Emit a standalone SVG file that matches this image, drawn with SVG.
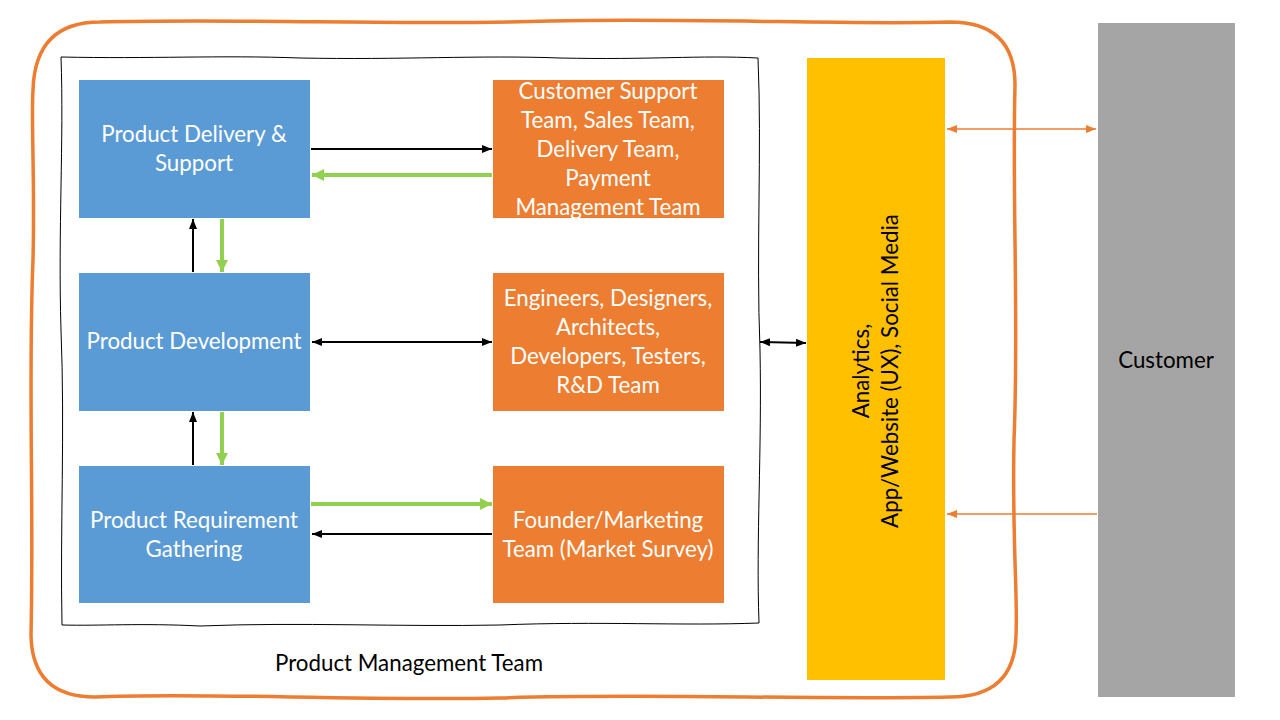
<svg xmlns="http://www.w3.org/2000/svg" width="1280" height="720" viewBox="0 0 1280 720">
<style>
  .lbl { font-family: Lato, "Liberation Sans", sans-serif; font-size: 22.3px; text-anchor: middle; }
  .w { fill: #FFFFFF; }
  .k { fill: #000000; }
  .blue { fill: #5B9BD5; }
  .org { fill: #ED7D31; }
  .blk { stroke: #000000; stroke-width: 2; fill: none; }
  .grn { stroke: #92D050; stroke-width: 4; fill: none; }
  .oar { stroke: #ED7D31; stroke-width: 1.5; fill: none; }
</style>
<defs>
  <marker id="mb" markerUnits="userSpaceOnUse" markerWidth="10" markerHeight="8" refX="10" refY="4" orient="auto-start-reverse">
    <path d="M0,0 L10,4 L0,8 z" fill="#000000"/>
  </marker>
  <marker id="mg" markerUnits="userSpaceOnUse" markerWidth="12" markerHeight="12" refX="12" refY="6" orient="auto-start-reverse">
    <path d="M0,0 L12,6 L0,12 z" fill="#92D050"/>
  </marker>
  <marker id="mo" markerUnits="userSpaceOnUse" markerWidth="10" markerHeight="8" refX="10" refY="4" orient="auto-start-reverse">
    <path d="M0,0 L10,4 L0,8 z" fill="#ED7D31"/>
  </marker>
</defs>
<rect width="1280" height="720" fill="#FFFFFF"/>

<g id="product-management-team">
  <path d="M100,22 C250,18 400,26 550,21 C700,18 850,25 950,22 Q1015,22 1015,85 C1012,200 1019,320 1014,440 C1012,540 1018,600 1016,635 Q1015,697 950,697 C800,700 650,693 500,698 C350,701 200,692 95,697 Q32,697 31,635 C34,500 28,380 33,260 C35,180 31,120 33,90 Q35,22 100,22 Z" fill="none" stroke="#ED7D31" stroke-width="3.5"/>
  <text class="lbl k" x="409" y="671">Product Management Team</text>
</g>

<g id="inner-team-box">
  <path d="M61,57 C150,59 220,55 300,58 C400,60 480,55 560,58 C650,60 700,55 758,58 C762,150 756,250 760,350 C762,450 756,540 759,623 C680,626 600,621 500,625 C400,627 300,622 200,626 C140,623 100,626 62,625 C60,530 65,430 61,330 C58,230 64,140 61,57 Z" fill="none" stroke="#000000" stroke-width="1"/>
</g>

<g id="product-delivery">
  <rect x="79" y="80" width="231" height="138" class="blue"/>
  <text class="lbl w" x="194" y="142">Product Delivery &amp;</text>
  <text class="lbl w" x="194" y="171">Support</text>
</g>
<g id="product-development">
  <rect x="79" y="273" width="231" height="138" class="blue"/>
  <text class="lbl w" x="194" y="349">Product Development</text>
</g>
<g id="product-requirement">
  <rect x="79" y="466" width="231" height="137" class="blue"/>
  <text class="lbl w" x="194" y="528">Product Requirement</text>
  <text class="lbl w" x="194" y="557">Gathering</text>
</g>

<g id="support-teams">
  <rect x="493" y="80" width="231" height="138" class="org"/>
  <text class="lbl w" x="608" y="99">Customer Support</text>
  <text class="lbl w" x="608" y="128">Team, Sales Team,</text>
  <text class="lbl w" x="608" y="157">Delivery Team,</text>
  <text class="lbl w" x="608" y="186">Payment</text>
  <text class="lbl w" x="608" y="215">Management Team</text>
</g>
<g id="engineering-teams">
  <rect x="493" y="273" width="231" height="138" class="org"/>
  <text class="lbl w" x="608" y="306">Engineers, Designers,</text>
  <text class="lbl w" x="608" y="335">Architects,</text>
  <text class="lbl w" x="608" y="364">Developers, Testers,</text>
  <text class="lbl w" x="608" y="393">R&amp;D Team</text>
</g>
<g id="marketing-team">
  <rect x="493" y="466" width="231" height="137" class="org"/>
  <text class="lbl w" x="608" y="528">Founder/Marketing</text>
  <text class="lbl w" x="608" y="557">Team (Market Survey)</text>
</g>

<g id="channels">
  <rect x="807" y="58" width="138" height="622" fill="#FFC000"/>
  <text class="lbl k" transform="translate(869,371) rotate(-90)">Analytics,</text>
  <text class="lbl k" transform="translate(898,371) rotate(-90)">App/Website (UX), Social Media</text>
</g>

<g id="customer">
  <rect x="1098" y="23" width="137" height="674" fill="#A5A5A5"/>
  <text class="lbl k" x="1166" y="368">Customer</text>
</g>

<g id="connectors">
  <line x1="311" y1="149" x2="492" y2="149" class="blk" marker-end="url(#mb)"/>
  <line x1="492" y1="175" x2="312" y2="175" class="grn" marker-end="url(#mg)"/>
  <line x1="193" y1="272" x2="193" y2="219" class="blk" marker-end="url(#mb)"/>
  <line x1="222" y1="219" x2="222" y2="272" class="grn" marker-end="url(#mg)"/>
  <line x1="312" y1="342" x2="492" y2="342" class="blk" marker-start="url(#mb)" marker-end="url(#mb)"/>
  <line x1="193" y1="465" x2="193" y2="412" class="blk" marker-end="url(#mb)"/>
  <line x1="222" y1="412" x2="222" y2="465" class="grn" marker-end="url(#mg)"/>
  <line x1="311" y1="504" x2="492" y2="504" class="grn" marker-end="url(#mg)"/>
  <line x1="492" y1="534" x2="312" y2="534" class="blk" marker-end="url(#mb)"/>
  <line x1="760" y1="342" x2="806" y2="343" class="blk" marker-start="url(#mb)" marker-end="url(#mb)"/>
  <line x1="947" y1="129" x2="1096" y2="129" class="oar" marker-start="url(#mo)" marker-end="url(#mo)"/>
  <line x1="1097" y1="514" x2="947" y2="514" class="oar" marker-end="url(#mo)"/>
</g>
</svg>
